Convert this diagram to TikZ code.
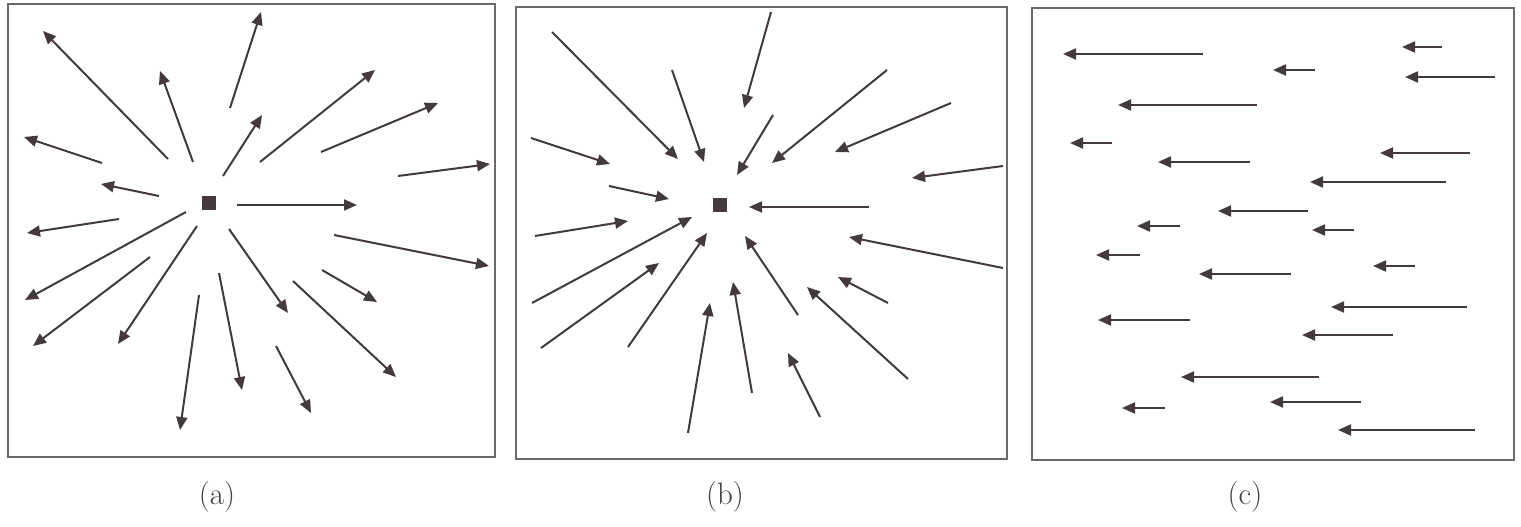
\documentclass[tikz,border=0pt]{standalone}
\usetikzlibrary{arrows.meta}
\definecolor{arrowc}{HTML}{433A3D}
\definecolor{framec}{HTML}{6A6A6A}
\definecolor{labelc}{HTML}{404040}
\begin{document}
\begin{tikzpicture}[x=1pt,y=-1pt,
  vec/.style={draw=arrowc,line width=2pt,-{Triangle[length=13pt,width=11pt]}},
  panel/.style={draw=framec,line width=1.8pt},
  centre/.style={fill=arrowc,minimum size=14pt,inner sep=0pt},
  caption/.style={text=labelc,font=\fontsize{31}{36}\selectfont}]
\useasboundingbox[fill=white] (0,0) rectangle (1521,527);
% panels
\draw[panel] (8,4) rectangle (495,457);
\draw[panel] (516,7) rectangle (1007,459);
\draw[panel] (1032,8) rectangle (1514,460);
% centre squares
\node[centre] (srcA) at (209,203) {};
\node[centre] (sinkB) at (720,205) {};
% panel (a): outward
\foreach \i/\xa/\ya/\xb/\yb in {
 1/168/159/43/31, 2/193/162/160/71, 3/230/108/261/12, 4/223/176/262/115,
 5/102/163/24/137, 6/159/196/101/184, 7/119/219/27/233, 8/260/162/375/70,
 9/321/152/438/103, 10/398/176/490/164, 11/237/205/357/205, 12/334/235/489/266,
 13/186/212/25/300, 14/150/257/33/346, 15/197/226/118/344, 16/199/295/180/430,
 17/219/273/242/390, 18/229/229/288/313, 19/322/270/377/302, 20/293/281/396/377,
 21/276/346/311/413}
{
 \coordinate (a\i s) at (\xa,\ya);
 \coordinate (a\i e) at (\xb,\yb);
 \draw[vec] (a\i s) -- (a\i e);
}
% panel (b): inward
\foreach \i/\xa/\ya/\xb/\yb in {
 1/552/32/678/159, 2/672/70/704/162, 3/771/12/744/108, 4/773/115/737/175,
 5/531/138/610/164, 6/609/186/669/199, 7/535/236/628/221, 8/887/70/772/163,
 9/951/103/835/152, 10/1003/166/912/178, 11/869/207/749/207, 12/532/303/692/217,
 13/541/348/659/263, 14/628/347/707/233, 15/688/433/710/303, 16/752/393/733/282,
 17/798/315/745/236, 18/1003/268/849/237, 19/888/303/838/277, 20/908/379/807/287,
 21/820/417/788/353}
{
 \coordinate (b\i s) at (\xa,\ya);
 \coordinate (b\i e) at (\xb,\yb);
 \draw[vec] (b\i s) -- (b\i e);
}
% panel (c): uniform flow
\foreach \i/\xa/\xb/\y in {
 1/1203/1063/54, 2/1257/1118/105, 3/1112/1070/143, 4/1250/1158/162,
 5/1308/1218/211, 6/1180/1137/226, 7/1442/1402/47, 8/1315/1273/70,
 9/1495/1405/77, 10/1470/1380/153, 11/1446/1310/182, 12/1354/1312/230,
 13/1140/1096/255, 14/1291/1199/274, 15/1190/1098/320, 16/1319/1181/377,
 17/1165/1122/408, 18/1415/1373/266, 19/1467/1331/307, 20/1393/1302/335,
 21/1361/1270/402, 22/1475/1338/430}
{
 \coordinate (c\i s) at (\xa,\y);
 \coordinate (c\i e) at (\xb,\y);
 \draw[vec] (c\i s) -- (c\i e);
}
% captions
\node[caption] (capA) at (217,497) {(a)};
\node[caption] (capB) at (725,497) {(b)};
\node[caption] (capC) at (1245,497) {(c)};
\end{tikzpicture}
\end{document}
